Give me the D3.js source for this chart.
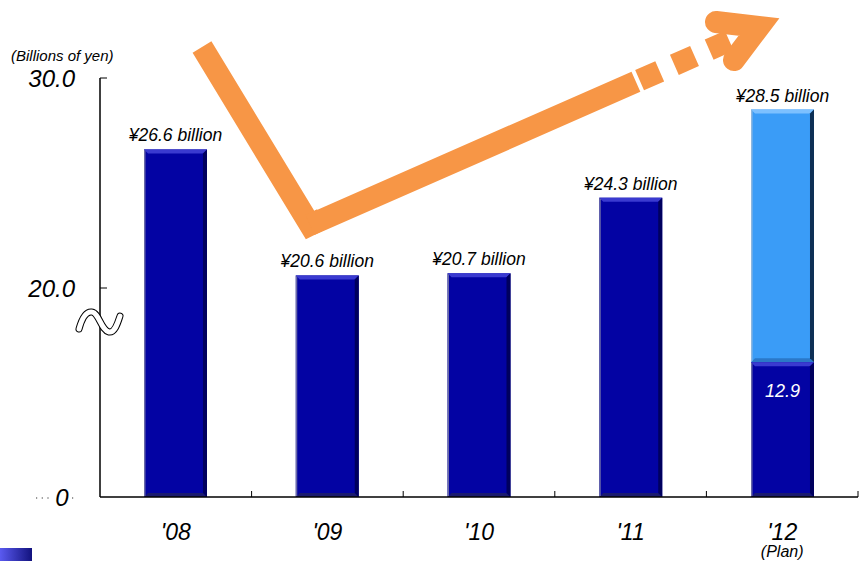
<!DOCTYPE html>
<html>
<head>
<meta charset="utf-8">
<script src="https://cdn.jsdelivr.net/npm/d3@7"></script>
<style>
  html, body { margin: 0; padding: 0; background: #fff; }
  svg { display: block; }
  text { font-family: "Liberation Sans", Arial, sans-serif; font-style: italic; }
</style>
</head>
<body>
<svg id="chart" width="866" height="561"></svg>
<script>
// Fiscal years and totals (billions of yen)
const years = ["'08", "'09", "'10", "'11", "'12"];
const totals = [26.6, 20.6, 20.7, 24.3, 28.5];
// Portion of the plan year already secured (dark segment)
const planBase = [null, null, null, null, 12.9];
const yearNotes = ["", "", "", "", "(Plan)"];
const tickValues = [0, 20, 30];
const tickLabels = ["0", "20.0", "30.0"];

const svg = d3.select("#chart");
const W = 866, H = 561;
const margin = { left: 100, right: 8, top: 78, bottom: 64 };
const plotBottom = H - margin.bottom;

// broken axis: 0–20 compressed, 20–30 at full resolution
const y = d3.scaleLinear()
  .domain([0, 20, 30])
  .range([plotBottom, 288, margin.top]);

const x = d3.scaleBand()
  .domain(years)
  .range([margin.left, W - margin.right])
  .paddingInner(0.585)
  .paddingOuter(0.29);

const xEdges = d3.scaleBand().domain(years).range([margin.left, W - margin.right]);

// bevelled bar drawing
function bevelBar(g, x0, x1, y0, y1, c) {
  const b = 4;
  g.append("rect").attr("x", x0).attr("y", y0).attr("width", x1 - x0).attr("height", y1 - y0).attr("fill", c.face);
  const poly = (pts, fill) => g.append("polygon").attr("points", pts.map(p => p.join(",")).join(" ")).attr("fill", fill);
  poly([[x0, y0], [x1, y0], [x1 - b, y0 + b], [x0 + b, y0 + b]], c.top);
  poly([[x0, y1], [x1, y1], [x1 - b, y1 - b], [x0 + b, y1 - b]], c.bottom);
  poly([[x1, y0], [x1, y1], [x1 - b, y1 - b], [x1 - b, y0 + b]], c.right);
  poly([[x0, y0], [x0, y1], [x0 + 1.5, y1 - 1.5], [x0 + 1.5, y0 + 1.5]], c.left);
}

const dark = { face: "#0303A3", top: "#3A3AD0", bottom: "#1A1A70", right: "#00005E", left: "#6A6AA8" };
const light = { face: "#3A9CF7", top: "#7CC0FF", bottom: "#2A78C8", right: "#0E2F55", left: "#8FB8E0" };

// decorative trend arrow
const arrow = svg.append("g").attr("fill", "none").attr("stroke", "#F79646").attr("stroke-width", 22);
arrow.append("path")
  .attr("d", "M202,47 L310,225 L322,219")
  .attr("stroke-linejoin", "miter");
arrow.append("path")
  .attr("d", "M310,225 L731,40")
  .attr("stroke-dasharray", "356 4 22 16 22 16 22 1000");
arrow.append("path")
  .attr("d", "M716,22 L759,27 L734,60")
  .attr("stroke-linejoin", "miter")
  .attr("stroke-linecap", "round")
  .attr("stroke-miterlimit", 10);

// bars
const bars = svg.append("g");
years.forEach((yr, i) => {
  const x0 = x(yr), x1 = x(yr) + x.bandwidth();
  if (planBase[i] != null) {
    bevelBar(bars, x0, x1, y(totals[i]), y(planBase[i]), light);
    bevelBar(bars, x0, x1, y(planBase[i]), y(0), dark);
    svg.append("text")
      .attr("x", x0 + x.bandwidth() / 2)
      .attr("y", y(planBase[i]) + 35)
      .attr("text-anchor", "middle")
      .attr("font-size", 18)
      .attr("fill", "#fff")
      .text(planBase[i].toFixed(1));
  } else {
    bevelBar(bars, x0, x1, y(totals[i]), y(0), dark);
  }
  svg.append("text")
    .attr("x", x0 + x.bandwidth() / 2)
    .attr("y", y(totals[i]) - 8)
    .attr("text-anchor", "middle")
    .attr("font-size", 17.5)
    .attr("fill", "#000")
    .text("¥" + totals[i].toFixed(1) + " billion");
});

// x axis
const xAxis = svg.append("g").attr("stroke", "#000");
xAxis.append("line")
  .attr("x1", margin.left).attr("x2", W - margin.right)
  .attr("y1", plotBottom).attr("y2", plotBottom).attr("stroke-width", 1.5);
xAxis.selectAll("line.tick")
  .data(years.slice(1).map(d => xEdges(d)).concat([W - margin.right]))
  .join("line").attr("class", "tick")
  .attr("x1", d => d).attr("x2", d => d)
  .attr("y1", plotBottom - 6).attr("y2", plotBottom)
  .attr("stroke-width", 1);

svg.selectAll("text.year")
  .data(years)
  .join("text").attr("class", "year")
  .attr("x", d => xEdges(d) + xEdges.bandwidth() / 2)
  .attr("y", 540)
  .attr("text-anchor", "middle")
  .attr("font-size", 23)
  .text(d => d);
svg.selectAll("text.note")
  .data(yearNotes)
  .join("text").attr("class", "note")
  .attr("x", (d, i) => xEdges(years[i]) + xEdges.bandwidth() / 2)
  .attr("y", 557)
  .attr("text-anchor", "middle")
  .attr("font-size", 16)
  .text(d => d);

// y axis
const yAxis = svg.append("g").attr("stroke", "#000");
yAxis.append("line")
  .attr("x1", margin.left).attr("x2", margin.left)
  .attr("y1", y(30)).attr("y2", plotBottom).attr("stroke-width", 1.5);
yAxis.selectAll("line.tick")
  .data(tickValues.filter(v => v > 0))
  .join("line").attr("class", "tick")
  .attr("x1", margin.left).attr("x2", margin.left + 7)
  .attr("y1", d => y(d)).attr("y2", d => y(d))
  .attr("stroke-width", 1);

svg.selectAll("text.ytick")
  .data(tickValues)
  .join("text").attr("class", "ytick")
  .attr("x", (d, i) => d === 0 ? 62 : 75)
  .attr("y", d => y(d) + 9)
  .attr("text-anchor", (d) => d === 0 ? "middle" : "end")
  .attr("font-size", 24)
  .text((d, i) => tickLabels[i]);

// dotted leader around the zero label
svg.append("line")
  .attr("x1", 36).attr("x2", 52).attr("y1", y(0) + 1).attr("y2", y(0) + 1)
  .attr("stroke", "#333").attr("stroke-width", 1.2).attr("stroke-dasharray", "1.2 4.5");
svg.append("line")
  .attr("x1", 72).attr("x2", 75).attr("y1", y(0) + 1).attr("y2", y(0) + 1)
  .attr("stroke", "#333").attr("stroke-width", 1.2).attr("stroke-dasharray", "1.2 4.5");

svg.append("text")
  .attr("x", 11).attr("y", 61)
  .attr("font-size", 15)
  .text("(Billions of yen)");

// axis break mark
const breakPath = "M79,329 C82,318 86,311 92,312 C99,313 101,330 109,332 C115,333 118,322 120,316";
svg.append("path").attr("d", breakPath).attr("fill", "none")
  .attr("stroke", "#000").attr("stroke-width", 7).attr("stroke-linecap", "round");
svg.append("path").attr("d", breakPath).attr("fill", "none")
  .attr("stroke", "#fff").attr("stroke-width", 5).attr("stroke-linecap", "round");

// corner marker
const grad = svg.append("defs").append("linearGradient").attr("id", "corner").attr("x1", 0).attr("x2", 1);
grad.append("stop").attr("offset", 0).attr("stop-color", "#5A5AF0");
grad.append("stop").attr("offset", 1).attr("stop-color", "#12127E");
svg.append("rect").attr("x", 0).attr("y", 548).attr("width", 32).attr("height", 13).attr("fill", "url(#corner)");
</script>
</body>
</html>
